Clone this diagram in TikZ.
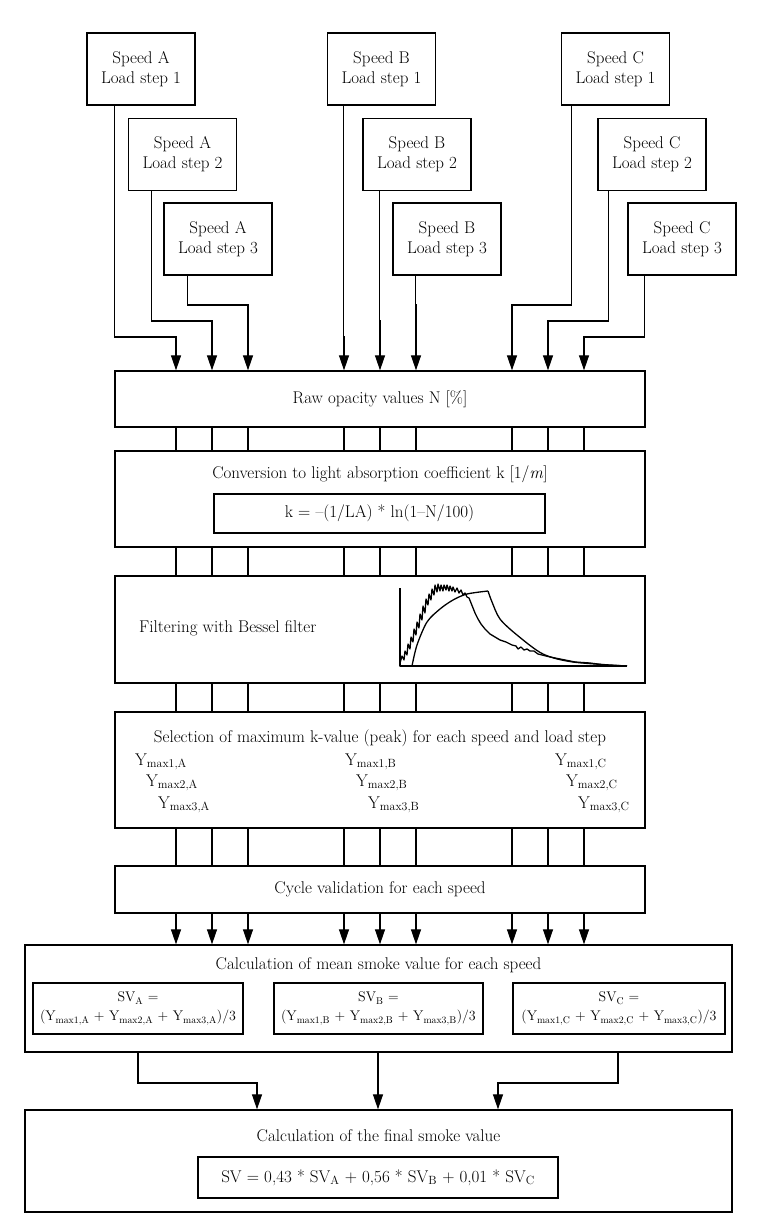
\documentclass[tikz,border=0pt]{standalone}
\usepackage{fontspec}
\usetikzlibrary{arrows.meta}

\begin{document}
\begin{tikzpicture}[x=1pt,y=-1pt,
  every node/.style={font=\fontsize{17}{20}\selectfont},
  loadbox/.style={draw,line width=1.2pt,minimum width=108pt,minimum height=72pt,align=center,inner sep=2pt},
  stagebox/.style={draw,line width=1.3pt,minimum width=530pt,inner sep=0pt},
  widebox/.style={draw,line width=1.3pt,minimum width=707pt,inner sep=0pt},
  formbox/.style={draw,line width=1.1pt,inner sep=0pt,align=center},
  ylabel/.style={anchor=west,inner sep=0pt},
  link/.style={line width=1.1pt},
  arr/.style={line width=1.1pt,-{Triangle[length=15pt,width=10pt]}}]
  \useasboundingbox (0,0) rectangle (758,1227);

  \foreach \s/\sp/\st/\x/\y in {a1/A/1/141/69, a2/A/2/182.5/154.5, a3/A/3/218/239,
      b1/B/1/381.5/69, b2/B/2/417/154.5, b3/B/3/447/239,
      c1/C/1/615.5/69, c2/C/2/652/154.5, c3/C/3/682/239}
    \node[loadbox] (\s) at (\x,\y) {Speed \sp\\Load step \st};

  \foreach \i/\x in {1/176,2/212,3/248,4/344,5/380,6/416,7/512,8/548,9/584}
    \coordinate (col\i) at (\x,0);

  \node[stagebox,minimum height=56pt] (raw) at (380,399) {Raw opacity values N [\%]};

  \node[stagebox,minimum height=96pt] (conv) at (380,499) {};
  \node (convtitle) at (380,474) {Conversion to light absorption coefficient k [1/\textit{m}]};
  \node[formbox,minimum width=331pt,minimum height=39pt] (convform) at (379.5,513.5)
    {k = --(1/LA) * ln(1--N/100)};

  \node[stagebox,minimum height=107pt] (filt) at (380,629.5) {};
  \node[ylabel] (filttext) at (139,628) {Filtering with Bessel filter};
  \begin{scope}[shift={(400,666)},y=1pt,line width=1.3pt,line join=round]
    \draw[line width=1.1pt] (0,78) -- (0,0) -- (227,0);
    \draw plot coordinates {(0,3) (2,10) (4,6) (5,15) (7,11) (8,22) (10,17) (11,29) (13,24)
      (14,37) (16,31) (17,44) (19,38) (20,52) (22,46) (23,60) (25,53) (26,67) (28,61)
      (29,72) (31,66) (32,77) (34,71) (35,81) (37,74) (38,82) (40,75) (41,81) (43,75)
      (44,81) (46,76) (47,81) (49,75) (50,80) (52,75) (53,79) (55,74) (57,78) (59,73)
      (61,76) (63,71) (65,73) (67,69) (69,68) (71,63) (73,58) (75,53) (78,47) (81,42)
      (85,37) (90,32) (95,29) (100,26) (106,24) (112,21) (116,20) (118,17) (121,19)
      (124,16) (127,17) (130,15) (134,15) (138,12) (146,10) (155,8) (165,6) (175,4) (190,3)
      (205,1) (227,0)};
    \draw plot[smooth] coordinates {(12,0) (17,21) (27,44) (40,57) (53,66) (67,72) (88,75)};
    \draw plot[smooth] coordinates {(88,75) (92,64) (100,47) (117,31) (143,12) (173,4) (227,0)};
  \end{scope}

  \node[stagebox,minimum height=116pt] (sel) at (380,770) {};
  \node (seltitle) at (380,738) {Selection of maximum k-value (peak) for each speed and load step};
  \foreach \g/\x in {A/135,B/345,C/555} {
    \node[ylabel] (y1\g) at (\x,762) {Y\textsubscript{max1,\g}};
    \node[ylabel] (y2\g) at (\x+11,783) {Y\textsubscript{max2,\g}};
    \node[ylabel] (y3\g) at (\x+23,805) {Y\textsubscript{max3,\g}};
  }

  \node[stagebox,minimum height=47pt] (cyc) at (380,889.5) {Cycle validation for each speed};

  \node[widebox,minimum height=107pt] (mean) at (378.5,998.5) {};
  \node (meantitle) at (378.5,965) {Calculation of mean smoke value for each speed};
  \foreach \g/\x/\w in {A/138/210,B/378.5/209,C/619/212}
    \node[formbox,minimum width=\w pt,minimum height=51pt,font=\fontsize{14}{19}\selectfont]
      (sv\g) at (\x,1008.5)
      {SV\textsubscript{\g} =\\(Y\textsubscript{max1,\g} + Y\textsubscript{max2,\g} + Y\textsubscript{max3,\g})/3};

  \node[widebox,minimum height=102pt] (final) at (378.5,1161) {};
  \node (finaltitle) at (378.5,1136) {Calculation of the final smoke value};
  \node[formbox,minimum width=360pt,minimum height=41pt] (finalform) at (378,1177.5)
    {SV = 0,43 * SV\textsubscript{A} + 0,56 * SV\textsubscript{B} + 0,01 * SV\textsubscript{C}};

  \foreach \s/\dx/\x/\yb in {a1/28/176/337, a2/24/212/321, a3/24/248/305,
      b1/17/344/337, b2/17/380/321, b3/23/416/305,
      c1/11/512/305, c2/11/548/321, c3/17/584/337} {
    \coordinate (bend) at (\x,\yb);
    \draw[arr] ([xshift=\dx pt]\s.south west) |- (bend) -- (bend |- raw.north);
  }

  \foreach \i in {1,...,9} {
    \draw[link] (col\i |- raw.south) -- (col\i |- conv.north);
    \draw[link] (col\i |- conv.south) -- (col\i |- filt.north);
    \draw[link] (col\i |- filt.south) -- (col\i |- sel.north);
    \draw[link] (col\i |- sel.south) -- (col\i |- cyc.north);
    \draw[arr] (col\i |- cyc.south) -- (col\i |- mean.north);
  }

  \coordinate (dA) at (138,1083);
  \coordinate (dB) at (378,1083);
  \coordinate (dC) at (618,1083);
  \coordinate (eA) at (257,0);
  \coordinate (eC) at (498,0);
  \draw[arr] (dA |- mean.south) -- (dA) -| (eA |- final.north);
  \draw[arr] (dB |- mean.south) -- (dB |- final.north);
  \draw[arr] (dC |- mean.south) -- (dC) -| (eC |- final.north);
\end{tikzpicture}
\end{document}
